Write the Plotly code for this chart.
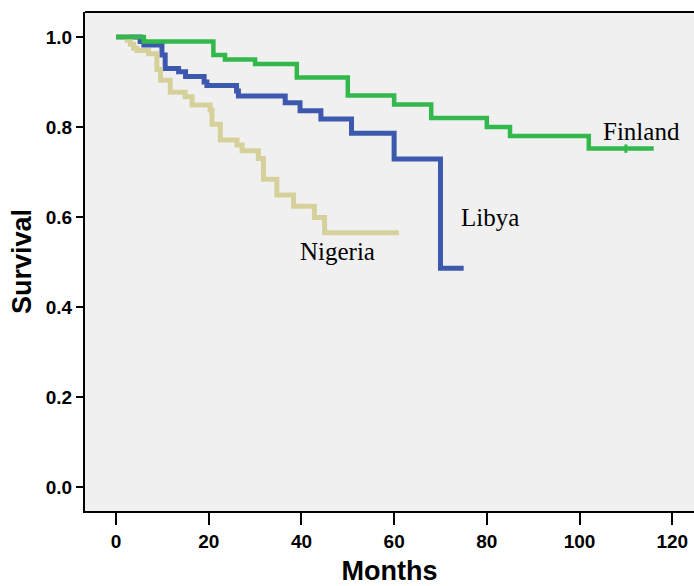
import plotly.graph_objects as go

# Kaplan-Meier step data (months, survival)
finland_t = [0, 6, 21, 23.5, 30, 39, 50, 60, 68, 80, 85, 102, 116]
finland_s = [1.0, 0.99, 0.96, 0.95, 0.94, 0.91, 0.87, 0.85, 0.82, 0.80, 0.78, 0.752, 0.752]
finland_cens_t = [110]
finland_cens_s = [0.752]

libya_t = [0, 5.2, 6, 9.9, 10.6, 13.5, 15, 19, 19.6, 26, 26.4, 36.5, 39.7, 44.2, 50.8, 60, 70, 75]
libya_s = [1.0, 0.99, 0.982, 0.96, 0.93, 0.923, 0.912, 0.90, 0.892, 0.88, 0.869, 0.854, 0.836,
           0.818, 0.786, 0.729, 0.486, 0.486]

nigeria_t = [0, 2.4, 3.1, 3.8, 4.5, 7, 8.8, 9.6, 11.7, 14.9, 16.4, 20.3, 20.7, 22.5, 26.1, 27.2,
             30.7, 31.8, 34.7, 38.3, 42.8, 45, 61]
nigeria_s = [1.0, 0.993, 0.984, 0.975, 0.97, 0.963, 0.928, 0.904, 0.877, 0.867, 0.849, 0.838,
             0.806, 0.771, 0.76, 0.747, 0.73, 0.684, 0.649, 0.624, 0.599, 0.565, 0.565]

x_ticks = [0, 20, 40, 60, 80, 100, 120]
y_ticks = [0.0, 0.2, 0.4, 0.6, 0.8, 1.0]
y_tick_labels = ["0.0", "0.2", "0.4", "0.6", "0.8", "1.0"]

c_fin = "#33b84b"
c_lib = "#3d59ad"
c_nig = "#d6d19b"

fig = go.Figure()
fig.add_trace(go.Scatter(x=libya_t, y=libya_s, mode="lines", line=dict(color=c_lib, width=5, shape="hv"),
                         showlegend=False, hoverinfo="skip"))
fig.add_trace(go.Scatter(x=nigeria_t, y=nigeria_s, mode="lines", line=dict(color=c_nig, width=5, shape="hv"),
                         showlegend=False, hoverinfo="skip"))
fig.add_trace(go.Scatter(x=finland_t, y=finland_s, mode="lines", line=dict(color=c_fin, width=4.5, shape="hv"),
                         showlegend=False, hoverinfo="skip"))
fig.add_trace(go.Scatter(x=finland_cens_t, y=finland_cens_s, mode="markers",
                         marker=dict(symbol="line-ns", size=6, line=dict(color=c_fin, width=3)),
                         showlegend=False, hoverinfo="skip"))

lab_font = dict(family="Liberation Serif", size=25, color="black")
fig.add_annotation(x=113.3, y=0.79, text="Finland", showarrow=False, font=lab_font)
fig.add_annotation(x=80.7, y=0.598, text="Libya", showarrow=False, font=lab_font)
fig.add_annotation(x=47.7, y=0.524, text="Nigeria", showarrow=False, font=lab_font)

fig.update_layout(
    width=694, height=586,
    margin=dict(l=85, r=0, t=12, b=75),
    paper_bgcolor="white",
    plot_bgcolor="#f0f0f0",
    font=dict(family="Liberation Sans", color="black"),
)
fig.update_xaxes(
    range=[-6.7, 124.7], tickvals=x_ticks, ticks="outside", ticklen=12, tickwidth=2, tickcolor="black",
    showgrid=False, zeroline=False, showline=True, linecolor="black", linewidth=2, mirror=False,
    tickfont=dict(family="Liberation Sans", size=19, color="black", weight="bold"),
    title=dict(text="<b>Months</b>", font=dict(family="Liberation Sans", size=27, color="black"), standoff=14),
)
fig.update_yaxes(
    range=[-0.0533, 1.0556], tickvals=y_ticks, ticktext=y_tick_labels, ticks="outside", ticklen=7,
    tickwidth=2, tickcolor="black",
    showgrid=False, zeroline=False, showline=True, linecolor="black", linewidth=2,
    tickfont=dict(family="Liberation Sans", size=19, color="black", weight="bold"),
    title=dict(text="<b>Survival</b>", font=dict(family="Liberation Sans", size=27, color="black"), standoff=6),
)
fig.add_shape(type="line", xref="paper", yref="paper", x0=0, x1=1, y0=1, y1=1,
              line=dict(color="black", width=2))

fig.write_html("out.html")
